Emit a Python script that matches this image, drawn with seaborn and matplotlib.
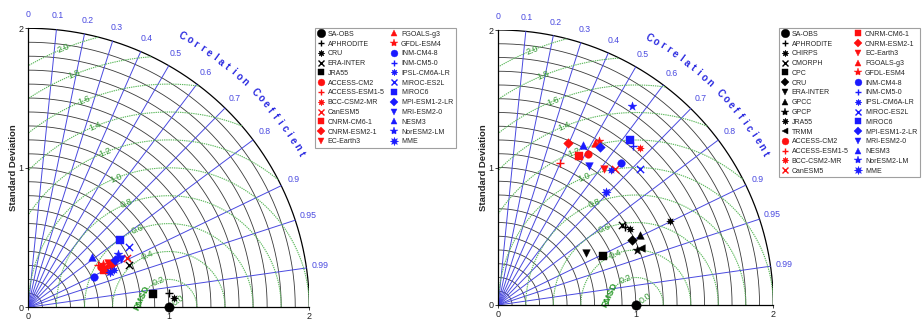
import numpy as np
import matplotlib
matplotlib.use("Agg")
import matplotlib.pyplot as plt
import seaborn as sns
from matplotlib.lines import Line2D

sns.set_theme(style="white")
plt.rcParams["font.family"] = ["Liberation Sans", "DejaVu Sans"]

# ---------------- data ----------------
# Left diagram: observations (name, std, corr)
left_obs_names = ["SA-OBS", "APHRODITE", "CRU", "ERA-INTER", "JRA55"]
left_obs_std = [1.00, 1.005, 1.042, 0.780, 0.896]
left_obs_corr = [1.000, 0.995, 0.998, 0.923, 0.994]

# Right diagram: observations
right_obs_names = ["SA-OBS", "APHRODITE", "CHIRPS", "CMORPH", "CPC", "CRU",
                   "ERA-INTER", "GPCC", "GPCP", "JRA55", "TRMM"]
right_obs_std = [1.00, 1.082, 1.106, 1.071, 0.841, 1.078, 0.744, 1.149, 1.086, 1.391, 1.118]
right_obs_corr = [1.000, 0.850, 0.868, 0.840, 0.904, 0.900, 0.860, 0.896, 0.930, 0.899, 0.930]

# CMIP6 models
red_models = ["ACCESS-CM2", "ACCESS-ESM1-5", "BCC-CSM2-MR", "CanESM5", "CNRM-CM6-1",
              "CNRM-ESM2-1", "EC-Earth3", "FGOALS-g3", "GFDL-ESM4"]
blue_models = ["INM-CM4-8", "INM-CM5-0", "IPSL-CM6A-LR", "MIROC-ES2L", "MIROC6",
               "MPI-ESM1-2-LR", "MRI-ESM2-0", "NESM3", "NorESM2-LM", "MME"]

left_red_std = [0.595, 0.583, 0.617, 0.783, 0.604, 0.662, 0.654, 0.685, 0.614]
left_red_corr = [0.873, 0.857, 0.891, 0.894, 0.894, 0.891, 0.872, 0.876, 0.863]
left_blue_std = [0.519, 0.734, 0.667, 0.839, 0.808, 0.707, 0.747, 0.576, 0.744, 0.632]
left_blue_corr = [0.906, 0.872, 0.915, 0.858, 0.804, 0.877, 0.884, 0.781, 0.860, 0.918]

right_red_std = [1.278, 1.124, 1.536, 1.305, 1.231, 1.285, 1.254, 1.372, 1.396]
right_red_corr = [0.509, 0.400, 0.671, 0.651, 0.479, 0.397, 0.614, 0.510, 0.523]
right_blue_std = [1.361, 1.518, 1.278, 1.429, 1.537, 1.368, 1.207, 1.315, 1.745, 1.132]
right_blue_corr = [0.654, 0.646, 0.642, 0.721, 0.625, 0.541, 0.547, 0.471, 0.556, 0.689]

corr_ticks = [0.0, 0.1, 0.2, 0.3, 0.4, 0.5, 0.6, 0.7, 0.8, 0.9, 0.95, 0.99]
corr_tick_labels = ["0", "0.1", "0.2", "0.3", "0.4", "0.5", "0.6", "0.7", "0.8", "0.9", "0.95", "0.99"]
rmsd_levels = [0.2, 0.4, 0.6, 0.8, 1.0, 1.2, 1.4, 1.6, 1.8, 2.0]
rmsd_labels = ["0.2", "0.4", "0.6", "0.8", "1.0", "1.2", "1.4", "1.6", "1.8", "2.0"]

# ---------------- styles ----------------
STAR8 = (8, 1, 0)
marker_map = {
    "SA-OBS": "o", "APHRODITE": "+", "CHIRPS": STAR8, "CMORPH": "x", "CPC": "s",
    "ERA-INTER": "v", "GPCC": "^", "GPCP": "*", "TRMM": "<",
    "ACCESS-CM2": "o", "ACCESS-ESM1-5": "+", "BCC-CSM2-MR": STAR8, "CanESM5": "x",
    "CNRM-CM6-1": "s", "CNRM-ESM2-1": "D", "EC-Earth3": "v", "FGOALS-g3": "^",
    "GFDL-ESM4": "*", "INM-CM4-8": "o", "INM-CM5-0": "+", "IPSL-CM6A-LR": STAR8,
    "MIROC-ES2L": "x", "MIROC6": "s", "MPI-ESM1-2-LR": "D", "MRI-ESM2-0": "v",
    "NESM3": "^", "NorESM2-LM": "*", "MME": STAR8,
}
LINE_MARKERS = {"+", "x"}
RED = "#ff1010"
BLUE = "#1a1aff"
BLACK = "#000000"
CORR_COL = "#4a4ae0"
STD_COL = "#3a3a3a"
GREEN = "#5cb85c"
GREEN_TXT = "#3c9c3c"

fig = plt.figure(figsize=(9.22, 3.2), dpi=100)


def size_for(name, mk):
    if name == "SA-OBS":
        return 46
    if name == "MME":
        return 44
    if mk == "*":
        return 44
    if mk in ("D",):
        return 24
    return 30


def draw_taylor(ax, marks):
    ax.set_xlim(0, 2)
    ax.set_ylim(0, 2)
    t = np.linspace(0, np.pi / 2, 300)
    # std arcs
    for r in np.arange(0.1, 2.01, 0.1):
        ax.plot(r * np.cos(t), r * np.sin(t), color=BLACK if r > 1.99 else STD_COL,
                lw=0.9 if r > 1.99 else 0.6, zorder=1)
    # correlation rays
    for c in corr_ticks[1:]:
        a = np.arccos(c)
        ax.plot([0, 2 * np.cos(a)], [0, 2 * np.sin(a)], color=CORR_COL, lw=0.7, zorder=1)
    # rmsd circles
    tt = np.linspace(0, np.pi, 600)
    for r in rmsd_levels:
        x = 1 + r * np.cos(tt)
        y = r * np.sin(tt)
        m = (x ** 2 + y ** 2 <= 4.0001) & (x >= 0)
        x = np.where(m, x, np.nan)
        y = np.where(m, y, np.nan)
        ax.plot(x, y, color=GREEN, lw=0.8, ls=(0, (1.2, 0.8)), zorder=1)
    for r, lab in zip(rmsd_levels, rmsd_labels):
        ang = np.deg2rad(112)
        ax.text(1 + r * np.cos(ang), r * np.sin(ang), lab, color=GREEN_TXT, fontsize=6.5,
                rotation=22, ha="center", va="center", zorder=2)
    ax.text(1.07, 0.05, "0.0", color=GREEN_TXT, fontsize=6.5, rotation=35,
            ha="center", va="center", zorder=2)
    ax.text(0.81, 0.07, "RMSD", color="#2a9a2a", fontsize=6.5, fontweight="bold",
            rotation=65, ha="center", va="center", zorder=2)
    # correlation labels
    for c, lab in zip(corr_ticks, corr_tick_labels):
        a = np.arccos(c)
        ax.text(2.1 * np.cos(a), 2.1 * np.sin(a), lab, color=CORR_COL, fontsize=6.3,
                ha="center", va="center", clip_on=False)
    # curved title
    txt = "Correlation Coefficient"
    angs = np.linspace(60.5, 29.5, len(txt))
    for ch, a in zip(txt, angs):
        ar = np.deg2rad(a)
        ax.text(2.23 * np.cos(ar), 2.23 * np.sin(ar), ch, color="#2a2ae0", fontsize=7,
                fontweight="bold", rotation=a - 90, ha="center", va="center", clip_on=False)
    # axes styling
    for s in ("top", "right"):
        ax.spines[s].set_visible(False)
    for s in ("left", "bottom"):
        ax.spines[s].set_color(BLACK)
        ax.spines[s].set_linewidth(0.9)
    ax.set_xticks([0, 1, 2])
    ax.set_yticks([0, 1, 2])
    ax.set_xticklabels(["0", "1", "2"])
    ax.set_yticklabels(["0", "1", "2"])
    ax.tick_params(axis="both", labelsize=6.5, length=2, width=0.6, pad=1.5,
                   colors="#222222", direction="out", bottom=True, left=True)
    ax.set_xlabel("")
    ax.set_ylabel("Standard Deviation", fontsize=6.8, fontweight="bold", labelpad=0.5)
    ax.set_facecolor("none")
    ax.grid(False)

    handles, labels = [], []
    for name, std, corr, col in marks:
        mk = marker_map[name]
        a = np.arccos(min(corr, 1.0))
        xx, yy = std * np.cos(a), std * np.sin(a)
        s = size_for(name, mk)
        if mk in LINE_MARKERS:
            sns.scatterplot(x=[xx], y=[yy], ax=ax, marker=mk, color=col, s=s * 0.9,
                            linewidth=1.0, zorder=5, legend=False, clip_on=False)
        else:
            sns.scatterplot(x=[xx], y=[yy], ax=ax, marker=mk, color=col, s=s,
                            edgecolor=col, linewidth=0.3, zorder=5, legend=False, clip_on=False)
        ms = np.sqrt(s) * 0.9
        handles.append(Line2D([], [], marker=mk, linestyle="None", color=col,
                              markerfacecolor=col, markeredgecolor=col,
                              markersize=ms * (0.9 if mk in LINE_MARKERS else 1.0),
                              markeredgewidth=1.0 if mk in LINE_MARKERS else 0.3))
        labels.append(name)
    return handles, labels


def build(names_obs, std_obs, corr_obs, rs, rc, bs, bc):
    marks = []
    for n, s, c in zip(names_obs, std_obs, corr_obs):
        marks.append((n, s, c, BLACK))
    for n, s, c in zip(red_models, rs, rc):
        marks.append((n, s, c, RED))
    for n, s, c in zip(blue_models, bs, bc):
        marks.append((n, s, c, BLUE))
    return marks


LEG_KW = dict(ncol=2, loc="upper left", fontsize=5.0, frameon=True, edgecolor="#888888",
              fancybox=False, handlelength=0.9, handletextpad=0.5, columnspacing=1.0,
              borderpad=0.4, labelspacing=0.4, borderaxespad=0)

# left: CRU uses the 8-point marker, JRA55 square, ERA-INTER a cross
axL = fig.add_axes([28.3 / 922, 12.7 / 320, 281 / 922, 279 / 320])
marker_map.update({"CRU": STAR8, "ERA-INTER": "x", "JRA55": "s"})
hL, lL = draw_taylor(axL, build(left_obs_names, left_obs_std, left_obs_corr,
                                 left_red_std, left_red_corr, left_blue_std, left_blue_corr))
legL = fig.legend(hL, lL, bbox_to_anchor=(315 / 922, 1 - 28 / 320), **LEG_KW)
legL.get_frame().set_linewidth(0.8)

# right: CRU diamond, ERA-INTER triangle down, JRA55 8-point marker
axR = fig.add_axes([498.3 / 922, 15 / 320, 275 / 922, 275 / 320])
marker_map.update({"CRU": "D", "ERA-INTER": "v", "JRA55": STAR8})
hR, lR = draw_taylor(axR, build(right_obs_names, right_obs_std, right_obs_corr,
                                 right_red_std, right_red_corr, right_blue_std, right_blue_corr))
legR = fig.legend(hR, lR, bbox_to_anchor=(779 / 922, 1 - 28 / 320), **LEG_KW)
legR.get_frame().set_linewidth(0.8)

fig.savefig("out.png", dpi=100, facecolor="white")
